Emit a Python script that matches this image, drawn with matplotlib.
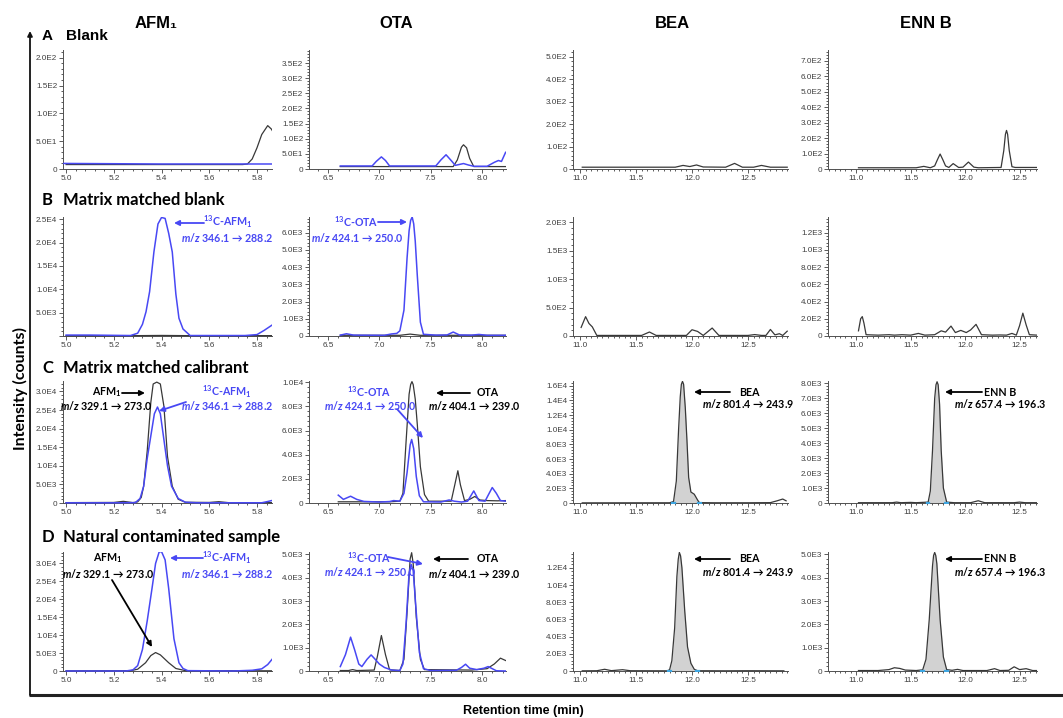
import matplotlib
matplotlib.use("Agg")
import numpy as np
import matplotlib.pyplot as plt
from matplotlib.ticker import MultipleLocator, AutoMinorLocator, FuncFormatter, FormatStrFormatter

W, H = 1063, 718

plt.rcParams['font.family'] = ['Liberation Sans', 'DejaVu Sans']
plt.rcParams['mathtext.fontset'] = 'custom'
plt.rcParams['mathtext.rm'] = 'Lato:weight=bold'
plt.rcParams['mathtext.it'] = 'Lato:style=italic:weight=bold'
plt.rcParams['mathtext.bf'] = 'Lato:weight=bold'

BLUE = '#4848f4'
DARK = '#383838'
FILL = '#d2d2d2'
MARK = '#3ea6e2'

# ---- data: (time min, counts) ----
# row A, blank
A_AFM_BLK = [(5.0, 8), (5.74, 8), (5.76, 9), (5.78, 18), (5.80, 38), (5.82, 62),
             (5.845, 78), (5.86, 72), (5.87, 65)]
A_AFM_BLU = [(4.99, 10), (5.4, 9), (5.87, 9)]
A_OTA_BLK = [(6.62, 8), (7.72, 8), (7.76, 30), (7.80, 72), (7.82, 80), (7.85, 70),
             (7.88, 35), (7.92, 8), (8.23, 8)]
A_OTA_BLU = [(6.62, 10), (6.93, 10), (6.97, 25), (7.02, 40), (7.06, 28), (7.10, 10),
             (7.55, 10), (7.60, 30), (7.65, 47), (7.70, 28), (7.74, 12), (7.78, 15),
             (7.82, 18), (7.87, 13), (7.92, 9), (8.05, 9), (8.12, 22), (8.16, 28),
             (8.19, 25), (8.21, 40), (8.23, 55)]
A_BEA = [(11.02, 8), (11.85, 8), (11.92, 16), (11.98, 11), (12.04, 18), (12.10, 9),
         (12.30, 8), (12.38, 25), (12.45, 8), (12.55, 8), (12.62, 16), (12.70, 8),
         (12.85, 8)]
A_ENN = [(11.02, 8), (11.55, 8), (11.62, 17), (11.68, 8), (11.72, 20), (11.745, 60),
         (11.77, 97), (11.795, 60), (11.82, 20), (11.85, 10), (11.89, 35), (11.94, 10),
         (11.98, 12), (12.03, 45), (12.08, 12), (12.12, 8), (12.33, 10), (12.355, 120),
         (12.37, 225), (12.38, 250), (12.39, 225), (12.405, 120), (12.43, 15), (12.46, 10),
         (12.66, 10)]

# row B, matrix matched blank
B_AFM_BLK = [(5.0, 80), (5.3, 80), (5.4, 120), (5.5, 80), (5.87, 80)]
B_AFM_BLU = [(5.0, 200), (5.1, 200), (5.27, 100), (5.30, 600), (5.32, 2500),
             (5.335, 5200), (5.35, 9500), (5.368, 18000), (5.385, 24000), (5.40, 25400),
             (5.415, 25200), (5.43, 22000), (5.445, 18000), (5.46, 9000), (5.473, 3800),
             (5.49, 1500), (5.52, 100), (5.75, 100), (5.80, 300), (5.83, 1200), (5.865, 2400)]
B_OTA_BLK = [(6.62, 40), (7.2, 40), (7.3, 110), (7.4, 40), (8.23, 40)]
B_OTA_BLU = [(6.62, 50), (6.68, 130), (6.75, 50), (7.05, 40), (7.12, 120), (7.17, 150),
             (7.20, 300), (7.24, 1500), (7.27, 4500), (7.29, 6100), (7.305, 6700), (7.32, 6900),
             (7.335, 6500), (7.35, 5500), (7.37, 3500), (7.40, 800), (7.43, 100), (7.55, 50),
             (7.66, 60), (7.72, 230), (7.78, 60), (7.90, 50), (7.97, 90), (8.05, 40), (8.23, 40)]
B_BEA = [(11.01, 150), (11.05, 340), (11.08, 220), (11.11, 160), (11.15, 10), (11.55, 10),
         (11.62, 70), (11.68, 10), (11.95, 10), (12.0, 110), (12.05, 80), (12.1, 10),
         (12.18, 140), (12.24, 10), (12.50, 10), (12.56, 25), (12.62, 10), (12.66, 10),
         (12.70, 115), (12.74, 20), (12.78, 40), (12.81, 10), (12.85, 85)]
B_ENN = [(11.02, 60), (11.04, 200), (11.055, 225), (11.07, 150), (11.09, 15), (11.2, 10),
         (11.3, 15), (11.35, 10), (11.42, 15), (11.5, 10), (11.57, 30), (11.63, 10),
         (11.72, 15), (11.78, 60), (11.82, 45), (11.87, 115), (11.91, 40), (11.96, 65),
         (12.01, 40), (12.05, 70), (12.10, 135), (12.15, 15), (12.25, 10), (12.32, 12),
         (12.38, 10), (12.43, 30), (12.47, 10), (12.50, 120), (12.53, 265), (12.56, 130),
         (12.59, 15), (12.66, 10)]

# row C, matrix matched calibrant
C_AFM_BLK = [(5.0, 100), (5.2, 150), (5.24, 450), (5.28, 100), (5.30, 300), (5.315, 1500),
             (5.325, 4500), (5.34, 14000), (5.355, 27000), (5.365, 32000), (5.38, 32500),
             (5.395, 32000), (5.41, 26000), (5.425, 12500), (5.445, 4500), (5.47, 1000),
             (5.50, 200), (5.6, 150), (5.64, 350), (5.68, 100), (5.87, 100)]
C_AFM_BLU = [(5.0, 50), (5.2, 50), (5.29, 100), (5.31, 1200), (5.325, 4500), (5.34, 12000),
             (5.355, 18000), (5.37, 24000), (5.383, 25800), (5.395, 24000), (5.41, 17000),
             (5.425, 10000), (5.442, 4500), (5.47, 1200), (5.50, 200), (5.55, 50),
             (5.82, 60), (5.845, 400), (5.865, 700)]
C_OTA_BLK = [(6.6, 100), (7.1, 100), (7.2, 150), (7.23, 800), (7.26, 5000), (7.29, 9000),
             (7.305, 9800), (7.318, 10050), (7.33, 9800), (7.35, 8600), (7.37, 6500),
             (7.40, 3000), (7.44, 700), (7.48, 150), (7.70, 150), (7.735, 1500),
             (7.765, 2670), (7.79, 1500), (7.83, 200), (7.88, 300), (7.93, 540), (7.98, 250),
             (8.05, 200), (8.15, 180), (8.23, 200)]
C_OTA_BLU = [(6.6, 650), (6.65, 300), (6.72, 560), (6.78, 300), (6.85, 130), (7.0, 80),
             (7.1, 120), (7.14, 200), (7.2, 150), (7.24, 800), (7.27, 2500), (7.30, 4800),
             (7.315, 5260), (7.335, 4500), (7.36, 2200), (7.39, 600), (7.43, 100),
             (7.60, 80), (7.68, 250), (7.73, 150), (7.80, 80), (7.86, 150), (7.92, 1000),
             (7.97, 200), (8.03, 150), (8.07, 800), (8.10, 1280), (8.14, 800), (8.18, 200),
             (8.23, 150)]
C_BEA = [(11.02, 20), (11.8, 30), (11.835, 200), (11.86, 3000), (11.88, 10000),
         (11.895, 14500), (11.905, 16200), (11.915, 16600), (11.925, 16200), (11.94, 13000),
         (11.955, 8500), (11.97, 3500), (11.99, 1500), (12.02, 1200), (12.05, 400),
         (12.066, 50), (12.2, 30), (12.5, 30), (12.7, 50), (12.76, 300), (12.81, 540),
         (12.84, 300)]
C_ENN = [(11.02, 20), (11.33, 20), (11.37, 60), (11.41, 20), (11.5, 40), (11.55, 20),
         (11.66, 60), (11.68, 800), (11.70, 3500), (11.72, 7000), (11.732, 7900),
         (11.742, 8100), (11.752, 7900), (11.765, 6600), (11.78, 3500), (11.80, 1000),
         (11.83, 60), (11.9, 20), (12.05, 20), (12.12, 150), (12.18, 20), (12.45, 20),
         (12.5, 60), (12.55, 20), (12.66, 20)]

# row D, natural contaminated sample
D_AFM_BLK = [(5.0, 50), (5.27, 80), (5.30, 500), (5.333, 2300), (5.355, 4300),
             (5.375, 5150), (5.395, 4500), (5.43, 2300), (5.46, 700), (5.50, 100), (5.87, 50)]
D_AFM_BLU = [(5.0, 0), (5.25, 0), (5.28, 300), (5.30, 1500), (5.32, 6000), (5.34, 14000),
             (5.36, 23000), (5.375, 30000), (5.39, 33200), (5.40, 33300), (5.415, 31000),
             (5.43, 23000), (5.452, 9000), (5.473, 2300), (5.49, 700), (5.51, 100),
             (5.7, 0), (5.78, 200), (5.82, 600), (5.845, 1800), (5.87, 3800)]
D_OTA_BLK = [(6.62, 20), (6.7, 20), (6.74, 60), (6.78, 20), (6.95, 40), (6.98, 600),
             (7.02, 1520), (7.06, 700), (7.10, 50), (7.2, 20), (7.24, 500), (7.27, 2500),
             (7.30, 4800), (7.315, 5070), (7.33, 4600), (7.36, 2300), (7.40, 500),
             (7.44, 60), (7.9, 40), (8.05, 100), (8.12, 300), (8.18, 550), (8.23, 450)]
D_OTA_BLU = [(6.62, 190), (6.67, 700), (6.72, 1450), (6.76, 900), (6.80, 300), (6.83, 190),
             (6.88, 500), (6.92, 690), (6.96, 500), (7.0, 300), (7.05, 150), (7.12, 40),
             (7.20, 20), (7.23, 300), (7.26, 2000), (7.29, 4200), (7.31, 4570), (7.33, 4300),
             (7.36, 2500), (7.39, 800), (7.43, 100), (7.5, 20), (7.75, 30), (7.80, 150),
             (7.84, 290), (7.88, 120), (7.95, 60), (8.02, 120), (8.06, 190), (8.10, 100),
             (8.14, 10), (8.23, 0)]
D_BEA = [(11.02, 20), (11.15, 30), (11.22, 200), (11.28, 40), (11.38, 150), (11.45, 30),
         (11.78, 20), (11.80, 150), (11.82, 1200), (11.845, 5000), (11.865, 11000),
         (11.877, 13000), (11.887, 13800), (11.898, 13400), (11.91, 12000), (11.935, 7000),
         (11.96, 2800), (11.99, 900), (12.02, 200), (12.05, 30), (12.3, 20), (12.5, 30),
         (12.82, 20)]
D_ENN = [(11.02, 20), (11.2, 20), (11.30, 60), (11.35, 140), (11.40, 110), (11.45, 40),
         (11.55, 20), (11.61, 50), (11.64, 500), (11.67, 2200), (11.70, 4500), (11.71, 4950),
         (11.72, 5080), (11.73, 4950), (11.74, 4600), (11.77, 2200), (11.80, 600),
         (11.83, 60), (11.88, 30), (11.93, 70), (11.98, 20), (12.2, 20), (12.27, 100),
         (12.32, 20), (12.40, 30), (12.45, 180), (12.50, 60), (12.56, 100), (12.62, 20),
         (12.66, 20)]

# integrated peak windows (start, end) for BEA / ENN B
C_BEA_WIN = (11.835, 12.066)
C_ENN_WIN = (11.66, 11.83)
D_BEA_WIN = (11.80, 12.05)
D_ENN_WIN = (11.61, 11.83)

HEADERS = ['AFM\u2081', 'OTA', 'BEA', 'ENN B']
ROW_LETTERS = ['A', 'B', 'C', 'D']
ROW_NAMES = ['Blank', 'Matrix matched blank', 'Matrix matched calibrant',
             'Natural contaminated sample']

# ---- layout (reference pixels) ----
ROW_TOP = [50, 217, 381, 552]
ROW_BASE = [169, 336, 503, 671]
COL_X = [(63, 272), (309, 506), (573, 788), (828, 1037)]
COL_XLIM = [(4.987, 5.863), (6.315, 8.234), (10.9375, 12.857), (10.74, 12.66)]
COL_XSTEP = [0.2, 0.5, 0.5, 0.5]
COL_XMINOR = [5, 5, 10, 10]
YTOP = [[214, 393, 531, 771], [25500, 6900, 2090, 1380],
        [32800, 10100, 16650, 8150], [33200, 5100, 13850, 5100]]
YSTEP = [[50, 50, 100, 100], [5000, 1000, 500, 200],
         [5000, 2000, 2000, 1000], [5000, 1000, 2000, 1000]]

panels = [
    [(A_AFM_BLK, A_AFM_BLU, None), (A_OTA_BLK, A_OTA_BLU, None), (A_BEA, None, None), (A_ENN, None, None)],
    [(B_AFM_BLK, B_AFM_BLU, None), (B_OTA_BLK, B_OTA_BLU, None), (B_BEA, None, None), (B_ENN, None, None)],
    [(C_AFM_BLK, C_AFM_BLU, None), (C_OTA_BLK, C_OTA_BLU, None), (C_BEA, None, C_BEA_WIN), (C_ENN, None, C_ENN_WIN)],
    [(D_AFM_BLK, D_AFM_BLU, None), (D_OTA_BLK, D_OTA_BLU, None), (D_BEA, None, D_BEA_WIN), (D_ENN, None, D_ENN_WIN)],
]


def sci(v, pos, hide_zero=False):
    if v < -1e-9:
        return ''
    if abs(v) < 1e-9:
        return '' if hide_zero else '0'
    e = int(np.floor(np.log10(v) + 1e-9))
    return f'{v / 10 ** e:.1f}E{e}'


fig = plt.figure(figsize=(W / 100, H / 100), dpi=100)
pad = 0.012

for r in range(4):
    for c in range(4):
        blk, blu, win = panels[r][c]
        x0, x1 = COL_X[c]
        top, base = ROW_TOP[r], ROW_BASE[r]
        bottom_px = base + pad * (base - top)
        ax = fig.add_axes([x0 / W, 1 - bottom_px / H, (x1 - x0) / W, (bottom_px - top) / H])
        ax.patch.set_visible(False)
        ytop = YTOP[r][c]

        t, y = map(np.array, zip(*blk))
        if win is not None:
            m = (t >= win[0]) & (t <= win[1])
            ax.fill_between(t[m], y[m], 0, color=FILL, lw=0)
        ax.plot(t, y, color=DARK, lw=0.9, zorder=3, solid_joinstyle='round')
        if blu is not None:
            tb, yb = zip(*blu)
            ax.plot(tb, yb, color=BLUE, lw=1.1, zorder=4, solid_joinstyle='round')
        if win is not None:
            for w in win:
                ax.plot([w - 0.012, w + 0.012], [0, 0], color=MARK, lw=1.6, zorder=5)

        ax.set_xlim(*COL_XLIM[c])
        ax.set_ylim(-pad * ytop, ytop)
        for s in ['top', 'right']:
            ax.spines[s].set_visible(False)
        ax.spines['bottom'].set_position(('data', 0))
        ax.spines['left'].set_bounds(0, ytop)
        for s in ['left', 'bottom']:
            ax.spines[s].set_color('#505050')
            ax.spines[s].set_linewidth(0.7)

        ax.xaxis.set_major_locator(MultipleLocator(COL_XSTEP[c]))
        ax.xaxis.set_minor_locator(AutoMinorLocator(COL_XMINOR[c]))
        ax.xaxis.set_major_formatter(FormatStrFormatter('%.1f'))
        ax.yaxis.set_major_locator(MultipleLocator(YSTEP[r][c]))
        ax.yaxis.set_minor_locator(AutoMinorLocator(5))
        hide = (r == 1 and c == 0)
        ax.yaxis.set_major_formatter(FuncFormatter(lambda v, p, h=hide: sci(v, p, h)))
        ax.tick_params(which='both', labelsize=5.9, colors='#404040', width=0.6, pad=1.5)
        ax.tick_params(which='major', length=2.6)
        ax.tick_params(which='minor', length=1.5)

# overlay in reference pixel coordinates (y downwards)
bg = fig.add_axes([0, 0, 1, 1], zorder=10)
bg.set_xlim(0, W)
bg.set_ylim(H, 0)
bg.set_axis_off()
bg.patch.set_visible(False)

bg.annotate('', xy=(30, 31), xytext=(30, 695),
            arrowprops=dict(arrowstyle='-|>', color='#111111', lw=1.3,
                            mutation_scale=7, shrinkA=0, shrinkB=0))
bg.plot([29, W], [695, 695], color='#222222', lw=2.2, solid_capstyle='butt')

bg.text(20, 389, 'Intensity (counts)', rotation=90, ha='center', va='center',
        fontsize=11.5, fontfamily=['Lato', 'DejaVu Sans'], fontweight='bold')
bg.text(523, 711, 'Retention time (min)', ha='center', va='center',
        fontsize=9, fontweight='bold')

for c, name in enumerate(HEADERS):
    cx = [156, 396, 672, 926][c]
    bg.text(cx, 23, name, ha='center', va='center', fontsize=12, fontweight='bold')

row_label_y = [36, 200, 368, 537]
bg.text(42, row_label_y[0], ROW_LETTERS[0], ha='left', va='center', fontsize=11, fontweight='bold')
bg.text(66, row_label_y[0], ROW_NAMES[0], ha='left', va='center', fontsize=11, fontweight='bold')
for r in range(1, 4):
    bg.text(42, row_label_y[r], ROW_LETTERS[r], ha='left', va='center', fontsize=12,
            fontfamily=['Lato', 'DejaVu Sans'], fontweight='bold')
    bg.text(63, row_label_y[r], ROW_NAMES[r], ha='left', va='center', fontsize=12,
            fontfamily=['Lato', 'DejaVu Sans'], fontweight='bold')


def note(x, y, s, color):
    bg.text(x, y, s, ha='center', va='center', color=color, fontsize=7.7,
            fontfamily=['Lato', 'DejaVu Sans'], fontweight='bold')


def pointer(x0, y0, x1, y1, color):
    bg.annotate('', xy=(x1, y1), xytext=(x0, y0),
                arrowprops=dict(arrowstyle='-|>', color=color, lw=1.3,
                                mutation_scale=7.5, shrinkA=0, shrinkB=0))


IS_AFM = r'$^{13}$C-AFM$_1$'
IS_OTA = r'$^{13}$C-OTA'
MZ_AFM = r'$m/z$ 329.1 → 273.0'
MZ_IS_AFM = r'$m/z$ 346.1 → 288.2'
MZ_OTA = r'$m/z$ 404.1 → 239.0'
MZ_IS_OTA = r'$m/z$ 424.1 → 250.0'
MZ_BEA = r'$m/z$ 801.4 → 243.9'
MZ_ENN = r'$m/z$ 657.4 → 196.3'

# row B
pointer(204, 223, 174, 223, BLUE)
note(228, 222, IS_AFM, BLUE)
note(227, 237, MZ_IS_AFM, BLUE)
note(356, 222, IS_OTA, BLUE)
pointer(378, 222, 407, 222, BLUE)
note(357, 237, MZ_IS_OTA, BLUE)

# row C
note(107, 392, r'AFM$_1$', 'black')
pointer(122, 393, 145, 393, 'black')
note(106, 405, MZ_AFM, 'black')
note(227, 392, IS_AFM, BLUE)
note(227, 405, MZ_IS_AFM, BLUE)
pointer(186, 402, 159, 411, BLUE)
note(369, 392, IS_OTA, BLUE)
note(370, 405, MZ_IS_OTA, BLUE)
pointer(397, 409, 423, 438, BLUE)
pointer(470, 393, 436, 393, 'black')
note(488, 393, 'OTA', 'black')
note(474, 405, MZ_OTA, 'black')
pointer(730, 392, 694, 392, 'black')
note(749, 392, 'BEA', 'black')
note(748, 404, MZ_BEA, 'black')
pointer(982, 392, 945, 392, 'black')
note(1000, 392, 'ENN B', 'black')
note(1000, 404, MZ_ENN, 'black')

# row D
note(108, 558, r'AFM$_1$', 'black')
note(108, 573, MZ_AFM, 'black')
pointer(112, 580, 152, 647, 'black')
pointer(203, 558, 170, 558, BLUE)
note(227, 558, IS_AFM, BLUE)
note(227, 573, MZ_IS_AFM, BLUE)
note(369, 558, IS_OTA, BLUE)
pointer(388, 557, 423, 564, BLUE)
note(370, 572, MZ_IS_OTA, BLUE)
pointer(468, 559, 433, 559, 'black')
note(488, 559, 'OTA', 'black')
note(474, 573, MZ_OTA, 'black')
pointer(730, 559, 694, 559, 'black')
note(749, 559, 'BEA', 'black')
note(748, 572, MZ_BEA, 'black')
pointer(982, 559, 945, 559, 'black')
note(1000, 559, 'ENN B', 'black')
note(1000, 572, MZ_ENN, 'black')

fig.savefig('out.png', dpi=100)
